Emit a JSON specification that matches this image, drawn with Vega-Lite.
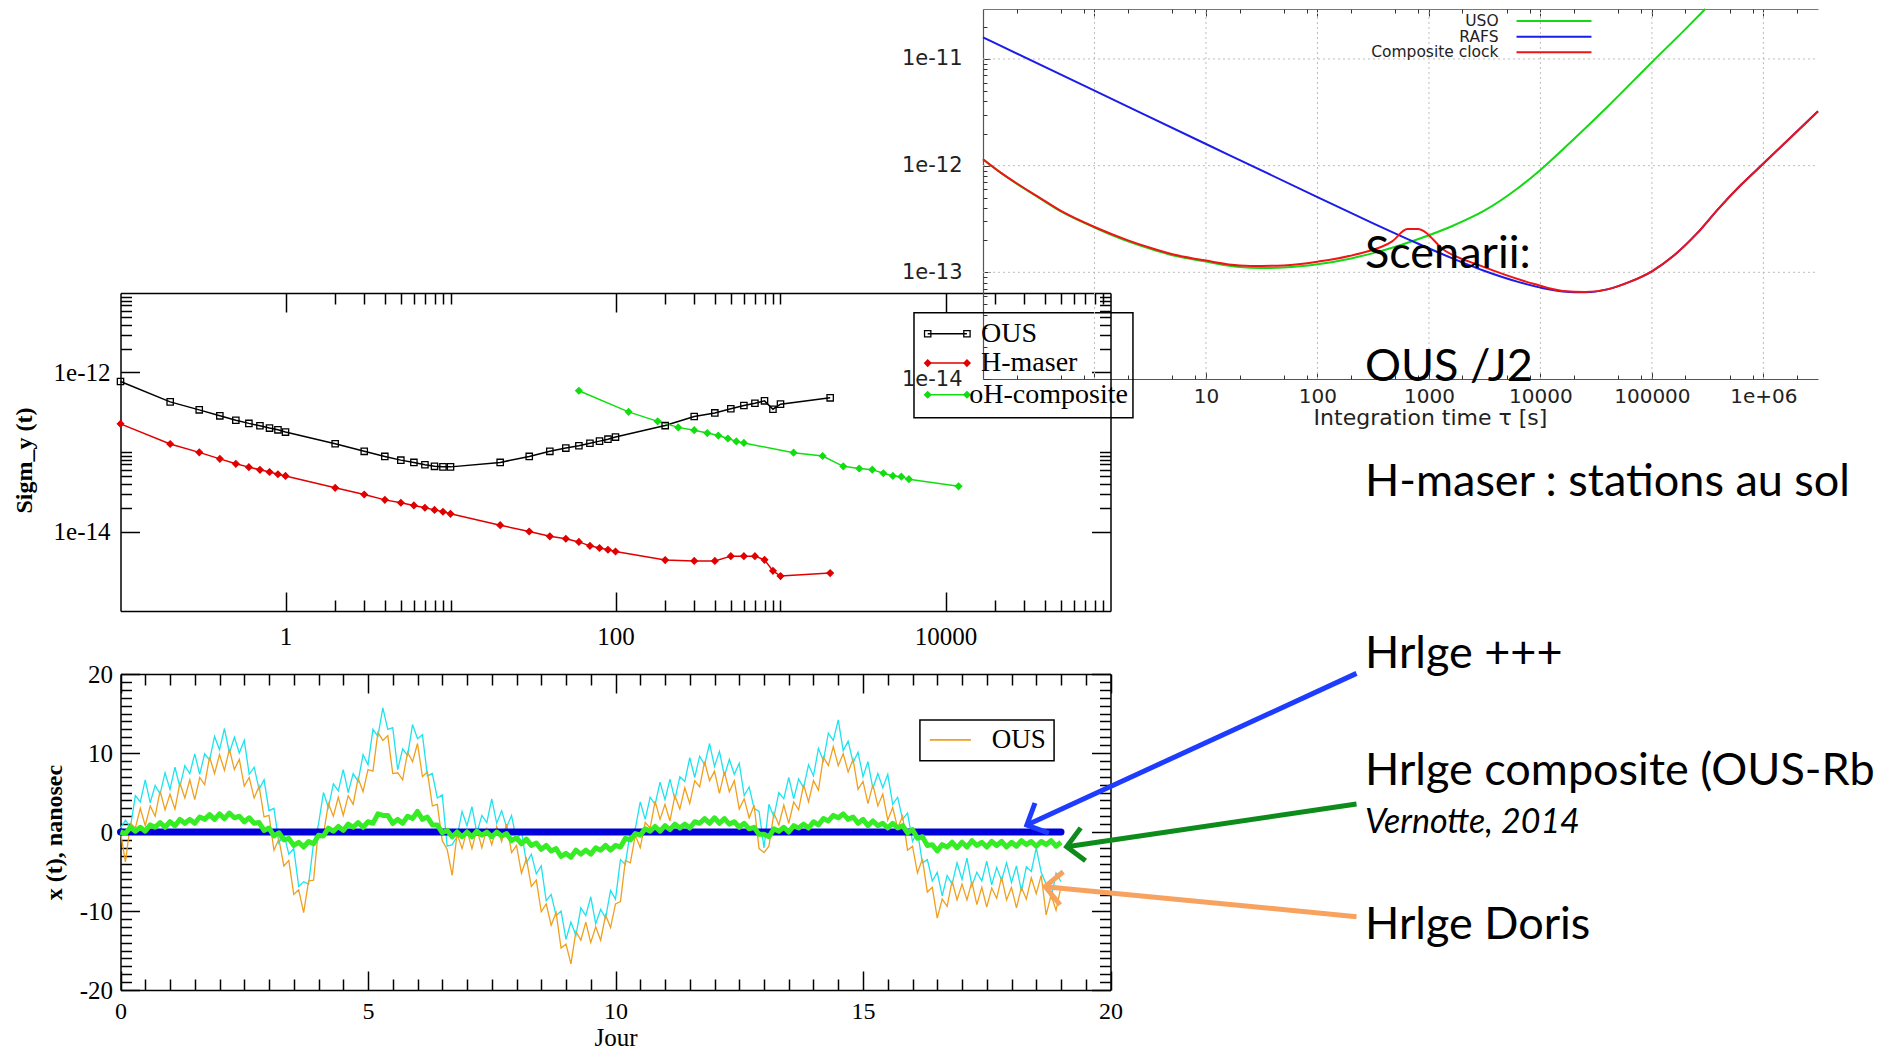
{
"$schema":"https://vega.github.io/schema/vega-lite/v6.json",
"width":1879,"height":1053,"autosize":{"type":"none"},"padding":0,"background":"white",
"config":{"view":{"stroke":null},"axis":{"grid":false,"labelFlush":false,"labelOverlap":false,"labelBound":false}},
"datasets":{
"sigma":[
{"series":"OUS","tau":0.1,"s":7.7e-13},{"series":"OUS","tau":0.2,"s":4.27e-13},{"series":"OUS","tau":0.3,"s":3.39e-13},{"series":"OUS","tau":0.4,"s":2.85e-13},{"series":"OUS","tau":0.5,"s":2.51e-13},{"series":"OUS","tau":0.6,"s":2.29e-13},{"series":"OUS","tau":0.7,"s":2.14e-13},{"series":"OUS","tau":0.8,"s":2.0e-13},{"series":"OUS","tau":0.9,"s":1.9e-13},{"series":"OUS","tau":1,"s":1.78e-13},
{"series":"OUS","tau":2,"s":1.27e-13},{"series":"OUS","tau":3,"s":1.02e-13},{"series":"OUS","tau":4,"s":8.8e-14},{"series":"OUS","tau":5,"s":7.9e-14},{"series":"OUS","tau":6,"s":7.4e-14},{"series":"OUS","tau":7,"s":6.9e-14},{"series":"OUS","tau":8,"s":6.6e-14},{"series":"OUS","tau":9,"s":6.5e-14},{"series":"OUS","tau":10,"s":6.5e-14},
{"series":"OUS","tau":20,"s":7.4e-14},{"series":"OUS","tau":30,"s":8.8e-14},{"series":"OUS","tau":40,"s":1.02e-13},{"series":"OUS","tau":50,"s":1.12e-13},{"series":"OUS","tau":60,"s":1.2e-13},{"series":"OUS","tau":70,"s":1.29e-13},{"series":"OUS","tau":80,"s":1.37e-13},{"series":"OUS","tau":90,"s":1.45e-13},{"series":"OUS","tau":100,"s":1.54e-13},
{"series":"OUS","tau":200,"s":2.15e-13},{"series":"OUS","tau":300,"s":2.8e-13},{"series":"OUS","tau":400,"s":3.1e-13},{"series":"OUS","tau":500,"s":3.5e-13},{"series":"OUS","tau":600,"s":3.85e-13},{"series":"OUS","tau":700,"s":4.1e-13},{"series":"OUS","tau":800,"s":4.4e-13},{"series":"OUS","tau":900,"s":3.45e-13},{"series":"OUS","tau":1000,"s":4.0e-13},{"series":"OUS","tau":2000,"s":4.8e-13},
{"series":"H-maser","tau":0.1,"s":2.26e-13},{"series":"H-maser","tau":0.2,"s":1.26e-13},{"series":"H-maser","tau":0.3,"s":9.9e-14},{"series":"H-maser","tau":0.4,"s":8.2e-14},{"series":"H-maser","tau":0.5,"s":7.1e-14},{"series":"H-maser","tau":0.6,"s":6.45e-14},{"series":"H-maser","tau":0.7,"s":5.97e-14},{"series":"H-maser","tau":0.8,"s":5.6e-14},{"series":"H-maser","tau":0.9,"s":5.25e-14},{"series":"H-maser","tau":1,"s":5.0e-14},
{"series":"H-maser","tau":2,"s":3.54e-14},{"series":"H-maser","tau":3,"s":2.92e-14},{"series":"H-maser","tau":4,"s":2.5e-14},{"series":"H-maser","tau":5,"s":2.3e-14},{"series":"H-maser","tau":6,"s":2.13e-14},{"series":"H-maser","tau":7,"s":1.99e-14},{"series":"H-maser","tau":8,"s":1.87e-14},{"series":"H-maser","tau":9,"s":1.77e-14},{"series":"H-maser","tau":10,"s":1.67e-14},
{"series":"H-maser","tau":20,"s":1.2e-14},{"series":"H-maser","tau":30,"s":1.0e-14},{"series":"H-maser","tau":40,"s":8.7e-15},{"series":"H-maser","tau":50,"s":8.1e-15},{"series":"H-maser","tau":60,"s":7.4e-15},{"series":"H-maser","tau":70,"s":6.6e-15},{"series":"H-maser","tau":80,"s":6.2e-15},{"series":"H-maser","tau":90,"s":5.9e-15},{"series":"H-maser","tau":100,"s":5.6e-15},
{"series":"H-maser","tau":200,"s":4.37e-15},{"series":"H-maser","tau":300,"s":4.27e-15},{"series":"H-maser","tau":400,"s":4.27e-15},{"series":"H-maser","tau":500,"s":4.9e-15},{"series":"H-maser","tau":600,"s":4.9e-15},{"series":"H-maser","tau":700,"s":4.9e-15},{"series":"H-maser","tau":800,"s":4.4e-15},{"series":"H-maser","tau":900,"s":3.2e-15},{"series":"H-maser","tau":1000,"s":2.75e-15},{"series":"H-maser","tau":2000,"s":3.0e-15},
{"series":"H-composite","tau":60,"s":5.9e-13},{"series":"H-composite","tau":120,"s":3.2e-13},{"series":"H-composite","tau":180,"s":2.43e-13},{"series":"H-composite","tau":240,"s":2.04e-13},{"series":"H-composite","tau":300,"s":1.88e-13},{"series":"H-composite","tau":360,"s":1.73e-13},{"series":"H-composite","tau":420,"s":1.61e-13},{"series":"H-composite","tau":480,"s":1.48e-13},{"series":"H-composite","tau":540,"s":1.36e-13},{"series":"H-composite","tau":600,"s":1.3e-13},
{"series":"H-composite","tau":1200,"s":9.8e-14},{"series":"H-composite","tau":1800,"s":8.9e-14},{"series":"H-composite","tau":2400,"s":6.6e-14},{"series":"H-composite","tau":3000,"s":6.2e-14},{"series":"H-composite","tau":3600,"s":6.0e-14},{"series":"H-composite","tau":4200,"s":5.4e-14},{"series":"H-composite","tau":4800,"s":5.0e-14},{"series":"H-composite","tau":5400,"s":4.9e-14},{"series":"H-composite","tau":6000,"s":4.55e-14},{"series":"H-composite","tau":12000,"s":3.7e-14}
],
"mleg":[
{"series":"OUS","label":"OUS","xa":7800,"xb":13490,"xt":16410,"y":3.07e-12},
{"series":"H-maser","label":"H-maser","xa":7800,"xb":13490,"xt":16410,"y":1.312e-12},
{"series":"H-composite","label":"oH-composite","xa":7800,"xb":13490,"xt":13940,"y":5.25e-13}
],
"mlegpts":[
{"series":"OUS","px":7800,"py":3.07e-12},{"series":"OUS","px":13490,"py":3.07e-12},
{"series":"H-maser","px":7800,"py":1.312e-12},{"series":"H-maser","px":13490,"py":1.312e-12},
{"series":"H-composite","px":7800,"py":5.25e-13},{"series":"H-composite","px":13490,"py":5.25e-13}
],
"mlegbox":[{"bx1":6442,"bx2":136800,"by1":5.64e-12,"by2":2.69e-13}],
"adev":[
{"series":"USO","tau":0.1,"s":1.148e-12},{"series":"USO","tau":0.141,"s":8.71e-13},{"series":"USO","tau":0.2,"s":6.76e-13},{"series":"USO","tau":0.316,"s":5.01e-13},{"series":"USO","tau":0.5,"s":3.72e-13},{"series":"USO","tau":1,"s":2.63e-13},{"series":"USO","tau":2,"s":1.95e-13},{"series":"USO","tau":3.16,"s":1.66e-13},{"series":"USO","tau":5,"s":1.445e-13},{"series":"USO","tau":10,"s":1.26e-13},{"series":"USO","tau":20,"s":1.12e-13},{"series":"USO","tau":31.6,"s":1.096e-13},{"series":"USO","tau":50,"s":1.109e-13},{"series":"USO","tau":100,"s":1.189e-13},{"series":"USO","tau":200,"s":1.349e-13},{"series":"USO","tau":316,"s":1.514e-13},{"series":"USO","tau":501,"s":1.738e-13},{"series":"USO","tau":794,"s":2.042e-13},{"series":"USO","tau":1585,"s":2.69e-13},{"series":"USO","tau":3162,"s":3.8e-13},{"series":"USO","tau":6310,"s":6.17e-13},{"series":"USO","tau":10000,"s":9.12e-13},{"series":"USO","tau":20000,"s":1.778e-12},{"series":"USO","tau":39800,"s":3.548e-12},{"series":"USO","tau":100000,"s":9.33e-12},{"series":"USO","tau":200000,"s":1.905e-11},{"series":"USO","tau":301000,"s":2.94e-11},
{"series":"RAFS","tau":0.1,"s":1.596e-11},{"series":"RAFS","tau":1,"s":5.05e-12},{"series":"RAFS","tau":10,"s":1.596e-12},{"series":"RAFS","tau":100,"s":5.07e-13},{"series":"RAFS","tau":316,"s":2.88e-13},{"series":"RAFS","tau":794,"s":1.862e-13},{"series":"RAFS","tau":1585,"s":1.365e-13},{"series":"RAFS","tau":3162,"s":1.028e-13},{"series":"RAFS","tau":6310,"s":8.13e-14},{"series":"RAFS","tau":10000,"s":7.19e-14},{"series":"RAFS","tau":15850,"s":6.62e-14},{"series":"RAFS","tau":25120,"s":6.5e-14},{"series":"RAFS","tau":39810,"s":6.92e-14},{"series":"RAFS","tau":63100,"s":8.13e-14},{"series":"RAFS","tau":100000,"s":1.023e-13},{"series":"RAFS","tau":158500,"s":1.445e-13},{"series":"RAFS","tau":251200,"s":2.29e-13},{"series":"RAFS","tau":398100,"s":3.98e-13},{"series":"RAFS","tau":631000,"s":6.61e-13},{"series":"RAFS","tau":1000000,"s":1.047e-12},{"series":"RAFS","tau":1585000,"s":1.66e-12},{"series":"RAFS","tau":3090000,"s":3.24e-12},
{"series":"Composite clock","tau":0.1,"s":1.148e-12},{"series":"Composite clock","tau":0.141,"s":8.75e-13},{"series":"Composite clock","tau":0.2,"s":6.84e-13},{"series":"Composite clock","tau":0.316,"s":5.07e-13},{"series":"Composite clock","tau":0.5,"s":3.76e-13},{"series":"Composite clock","tau":1,"s":2.66e-13},{"series":"Composite clock","tau":2,"s":1.995e-13},{"series":"Composite clock","tau":3.16,"s":1.698e-13},{"series":"Composite clock","tau":5,"s":1.479e-13},{"series":"Composite clock","tau":10,"s":1.288e-13},{"series":"Composite clock","tau":20,"s":1.161e-13},{"series":"Composite clock","tau":31.6,"s":1.148e-13},{"series":"Composite clock","tau":50,"s":1.161e-13},{"series":"Composite clock","tau":100,"s":1.259e-13},{"series":"Composite clock","tau":224,"s":1.479e-13},{"series":"Composite clock","tau":468,"s":1.95e-13},{"series":"Composite clock","tau":640,"s":2.547e-13},{"series":"Composite clock","tau":792,"s":2.547e-13},{"series":"Composite clock","tau":1406,"s":1.585e-13},{"series":"Composite clock","tau":2931,"s":1.148e-13},{"series":"Composite clock","tau":8831,"s":7.76e-14},{"series":"Composite clock","tau":15850,"s":6.68e-14},{"series":"Composite clock","tau":25120,"s":6.53e-14},{"series":"Composite clock","tau":39810,"s":6.92e-14},{"series":"Composite clock","tau":63100,"s":8.13e-14},{"series":"Composite clock","tau":100000,"s":1.023e-13},{"series":"Composite clock","tau":158500,"s":1.445e-13},{"series":"Composite clock","tau":251200,"s":2.29e-13},{"series":"Composite clock","tau":398100,"s":3.98e-13},{"series":"Composite clock","tau":631000,"s":6.61e-13},{"series":"Composite clock","tau":1000000,"s":1.047e-12},{"series":"Composite clock","tau":1585000,"s":1.66e-12},{"series":"Composite clock","tau":3090000,"s":3.24e-12}
],
"tgx":[{"gx":1},{"gx":10},{"gx":100},{"gx":1000},{"gx":10000},{"gx":100000},{"gx":1000000}],
"tgy":[{"gy":1e-13},{"gy":1e-12},{"gy":1e-11}],
"tleg":[
{"series":"USO","xa":6106,"xb":28700,"xt":4217,"y":2.27e-11},
{"series":"RAFS","xa":6106,"xb":28700,"xt":4217,"y":1.618e-11},
{"series":"Composite clock","xa":6106,"xb":28700,"xt":4217,"y":1.156e-11}
],
"xt":[
{"t":0,"o":0,"c":0.5,"g":0},{"t":0.1,"o":-3.8,"c":1.5,"g":-0.2},{"t":0.2,"o":1.1,"c":0.6,"g":0.6},{"t":0.3,"o":0.5,"c":4.6,"g":0.1},{"t":0.4,"o":3.0,"c":3.8,"g":0.6},{"t":0.5,"o":0.8,"c":6.6,"g":0.1},{"t":0.6,"o":3.3,"c":3.7,"g":0.9},{"t":0.7,"o":2.0,"c":5.9,"g":0.6},{"t":0.8,"o":5.2,"c":4.8,"g":1.2},{"t":0.9,"o":2.8,"c":7.5,"g":0.6},
{"t":1.0,"o":4.8,"c":5.4,"g":1.3},{"t":1.1,"o":2.9,"c":8.2,"g":0.8},{"t":1.2,"o":6.2,"c":5.7,"g":1.6},{"t":1.3,"o":4.3,"c":8.4,"g":1.1},{"t":1.4,"o":6.6,"c":7.4,"g":1.6},{"t":1.5,"o":4.1,"c":9.9,"g":1.1},{"t":1.6,"o":6.9,"c":7.3,"g":1.9},{"t":1.7,"o":6.0,"c":9.9,"g":1.6},{"t":1.8,"o":9.5,"c":9.1,"g":2.2},{"t":1.9,"o":7.4,"c":12.1,"g":1.6},
{"t":2.0,"o":9.8,"c":10.4,"g":2.3},{"t":2.1,"o":7.8,"c":13.1,"g":1.7},{"t":2.2,"o":10.5,"c":10.0,"g":2.4},{"t":2.3,"o":7.9,"c":12.0,"g":1.8},{"t":2.4,"o":9.2,"c":10.0,"g":2.0},{"t":2.5,"o":5.8,"c":11.6,"g":1.3},{"t":2.6,"o":6.9,"c":7.3,"g":1.8},{"t":2.7,"o":4.3,"c":8.2,"g":1.1},{"t":2.8,"o":5.8,"c":5.4,"g":1.2},{"t":2.9,"o":1.9,"c":6.6,"g":0.2},
{"t":3.0,"o":2.1,"c":2.7,"g":0.5},{"t":3.1,"o":-2.3,"c":3.0,"g":-0.5},{"t":3.2,"o":-0.9,"c":-1.4,"g":-0.1},{"t":3.3,"o":-4.3,"c":-0.2,"g":-1.0},{"t":3.4,"o":-3.6,"c":-2.8,"g":-0.8},{"t":3.5,"o":-7.9,"c":-2.1,"g":-1.7},{"t":3.6,"o":-7.3,"c":-6.9,"g":-1.3},{"t":3.7,"o":-10.2,"c":-6.3,"g":-1.9},{"t":3.8,"o":-6.2,"c":-6.6,"g":-1.2},{"t":3.9,"o":-6.1,"c":-1.4,"g":-1.5},
{"t":4.0,"o":0.4,"c":1.0,"g":-0.4},{"t":4.1,"o":-0.3,"c":5.0,"g":-0.5},{"t":4.2,"o":3.6,"c":3.1,"g":0.5},{"t":4.3,"o":2.0,"c":6.1,"g":0.1},{"t":4.4,"o":4.4,"c":5.2,"g":0.7},{"t":4.5,"o":2.1,"c":7.9,"g":0.2},{"t":4.6,"o":4.6,"c":5.0,"g":1.0},{"t":4.7,"o":3.5,"c":7.4,"g":0.6},{"t":4.8,"o":6.8,"c":6.4,"g":1.2},{"t":4.9,"o":5.1,"c":9.8,"g":0.6},
{"t":5.0,"o":7.9,"c":8.5,"g":1.3},{"t":5.1,"o":7.7,"c":13.0,"g":1.1},{"t":5.2,"o":12.6,"c":12.1,"g":2.3},{"t":5.3,"o":11.6,"c":15.7,"g":2.1},{"t":5.4,"o":12.2,"c":13.0,"g":2.1},{"t":5.5,"o":7.4,"c":13.2,"g":1.1},{"t":5.6,"o":7.5,"c":7.9,"g":1.6},{"t":5.7,"o":6.6,"c":10.5,"g":1.1},{"t":5.8,"o":10.1,"c":9.7,"g":2.0},{"t":5.9,"o":8.9,"c":13.6,"g":1.7},
{"t":6.0,"o":11.2,"c":11.8,"g":2.6},{"t":6.1,"o":7.0,"c":12.3,"g":1.6},{"t":6.2,"o":7.6,"c":7.1,"g":1.9},{"t":6.3,"o":3.3,"c":7.4,"g":0.9},{"t":6.4,"o":3.5,"c":4.3,"g":0.9},{"t":6.5,"o":-1.1,"c":4.7,"g":-0.1},{"t":6.6,"o":-2.2,"c":-1.8,"g":0.2},{"t":6.7,"o":-5.5,"c":-1.6,"g":-0.6},{"t":6.8,"o":-0.2,"c":-0.6,"g":0.0},{"t":6.9,"o":-2.1,"c":2.6,"g":-0.6},
{"t":7.0,"o":0.2,"c":0.8,"g":0.0},{"t":7.1,"o":-2.1,"c":3.2,"g":-0.6},{"t":7.2,"o":0.4,"c":-0.1,"g":0.1},{"t":7.3,"o":-2.0,"c":2.1,"g":-0.4},{"t":7.4,"o":0.4,"c":1.2,"g":0.0},{"t":7.5,"o":-1.6,"c":4.2,"g":-0.6},{"t":7.6,"o":0.7,"c":1.1,"g":0.0},{"t":7.7,"o":-1.2,"c":2.7,"g":-0.5},{"t":7.8,"o":1.0,"c":0.6,"g":-0.2},{"t":7.9,"o":-2.6,"c":2.1,"g":-1.1},
{"t":8.0,"o":-1.7,"c":-1.1,"g":-0.7},{"t":8.1,"o":-5.2,"c":0.1,"g":-1.5},{"t":8.2,"o":-3.4,"c":-3.9,"g":-0.9},{"t":8.3,"o":-6.9,"c":-2.8,"g":-1.7},{"t":8.4,"o":-6.1,"c":-5.3,"g":-1.4},{"t":8.5,"o":-10.1,"c":-4.3,"g":-2.2},{"t":8.6,"o":-9.1,"c":-8.7,"g":-1.7},{"t":8.7,"o":-11.8,"c":-7.9,"g":-2.4},{"t":8.8,"o":-10.2,"c":-10.6,"g":-2.1},{"t":8.9,"o":-14.7,"c":-10.0,"g":-3.1},
{"t":9.0,"o":-14.2,"c":-13.6,"g":-2.7},{"t":9.1,"o":-16.7,"c":-11.4,"g":-3.2},{"t":9.2,"o":-12.6,"c":-13.1,"g":-2.3},{"t":9.3,"o":-13.7,"c":-9.6,"g":-2.8},{"t":9.4,"o":-11.4,"c":-10.6,"g":-2.3},{"t":9.5,"o":-14.0,"c":-8.2,"g":-2.8},{"t":9.6,"o":-12.0,"c":-11.6,"g":-2.0},{"t":9.7,"o":-13.7,"c":-9.8,"g":-2.3},{"t":9.8,"o":-10.5,"c":-10.9,"g":-1.7},{"t":9.9,"o":-12.1,"c":-7.4,"g":-2.3},
{"t":10.0,"o":-9.1,"c":-8.5,"g":-1.7},{"t":10.1,"o":-8.8,"c":-3.5,"g":-1.9},{"t":10.2,"o":-3.6,"c":-4.1,"g":-0.8},{"t":10.3,"o":-3.9,"c":0.2,"g":-1.0},{"t":10.4,"o":-0.4,"c":0.4,"g":-0.2},{"t":10.5,"o":-2.0,"c":3.8,"g":-0.4},{"t":10.6,"o":1.2,"c":1.6,"g":0.4},{"t":10.7,"o":0.5,"c":4.4,"g":0.1},{"t":10.8,"o":3.9,"c":3.5,"g":0.7},{"t":10.9,"o":1.6,"c":6.3,"g":0.1},
{"t":11.0,"o":3.5,"c":4.1,"g":0.8},{"t":11.1,"o":1.4,"c":6.7,"g":0.3},{"t":11.2,"o":4.6,"c":4.1,"g":1.0},{"t":11.3,"o":2.9,"c":7.0,"g":0.5},{"t":11.4,"o":5.6,"c":6.4,"g":1.0},{"t":11.5,"o":3.6,"c":9.4,"g":0.5},{"t":11.6,"o":6.5,"c":6.9,"g":1.3},{"t":11.7,"o":5.7,"c":9.6,"g":1.1},{"t":11.8,"o":8.9,"c":8.5,"g":1.7},{"t":11.9,"o":6.5,"c":11.2,"g":1.1},
{"t":12.0,"o":7.7,"c":8.3,"g":1.8},{"t":12.1,"o":4.9,"c":10.2,"g":1.1},{"t":12.2,"o":7.6,"c":7.1,"g":1.7},{"t":12.3,"o":5.1,"c":9.2,"g":1.0},{"t":12.4,"o":6.5,"c":7.3,"g":1.3},{"t":12.5,"o":2.9,"c":8.7,"g":0.6},{"t":12.6,"o":4.2,"c":4.6,"g":1.1},{"t":12.7,"o":1.8,"c":5.7,"g":0.4},{"t":12.8,"o":3.4,"c":3.0,"g":0.6},{"t":12.9,"o":-2.1,"c":2.6,"g":-0.3},
{"t":13.0,"o":-2.6,"c":-2.0,"g":-0.3},{"t":13.1,"o":-1.8,"c":3.5,"g":-0.6},{"t":13.2,"o":2.4,"c":1.9,"g":0.4},{"t":13.3,"o":0.9,"c":5.0,"g":0.1},{"t":13.4,"o":3.4,"c":4.2,"g":0.6},{"t":13.5,"o":1.1,"c":6.9,"g":0.0},{"t":13.6,"o":3.8,"c":4.2,"g":0.8},{"t":13.7,"o":2.8,"c":6.7,"g":0.5},{"t":13.8,"o":6.0,"c":5.6,"g":1.0},{"t":13.9,"o":3.8,"c":8.5,"g":0.5},
{"t":14.0,"o":6.5,"c":7.1,"g":1.3},{"t":14.1,"o":5.3,"c":10.6,"g":0.9},{"t":14.2,"o":9.5,"c":9.0,"g":1.7},{"t":14.3,"o":8.4,"c":12.5,"g":1.4},{"t":14.4,"o":10.8,"c":11.6,"g":2.1},{"t":14.5,"o":8.4,"c":14.2,"g":1.8},{"t":14.6,"o":9.9,"c":10.3,"g":2.3},{"t":14.7,"o":7.6,"c":11.5,"g":1.6},{"t":14.8,"o":9.2,"c":8.8,"g":1.9},{"t":14.9,"o":5.4,"c":10.1,"g":1.1},
{"t":15.0,"o":6.4,"c":7.0,"g":1.6},{"t":15.1,"o":3.6,"c":8.9,"g":0.8},{"t":15.2,"o":6.0,"c":5.5,"g":1.4},{"t":15.3,"o":3.3,"c":7.4,"g":0.8},{"t":15.4,"o":4.8,"c":5.6,"g":1.1},{"t":15.5,"o":1.5,"c":7.3,"g":0.5},{"t":15.6,"o":3.1,"c":3.5,"g":1.1},{"t":15.7,"o":0.5,"c":4.4,"g":0.5},{"t":15.8,"o":2.0,"c":1.6,"g":0.8},{"t":15.9,"o":-2.3,"c":2.4,"g":-0.1},
{"t":16.0,"o":-1.8,"c":-1.2,"g":0.3},{"t":16.1,"o":-5.2,"c":0.1,"g":-0.8},{"t":16.2,"o":-3.4,"c":-3.9,"g":-0.6},{"t":16.3,"o":-7.6,"c":-3.5,"g":-1.7},{"t":16.4,"o":-7.0,"c":-6.2,"g":-1.6},{"t":16.5,"o":-10.9,"c":-5.1,"g":-2.4},{"t":16.6,"o":-8.5,"c":-8.1,"g":-1.6},{"t":16.7,"o":-9.4,"c":-5.5,"g":-1.9},{"t":16.8,"o":-6.2,"c":-6.6,"g":-1.3},{"t":16.9,"o":-8.6,"c":-3.9,"g":-2.0},
{"t":17.0,"o":-6.6,"c":-6.0,"g":-1.3},{"t":17.1,"o":-8.6,"c":-3.3,"g":-1.9},{"t":17.2,"o":-6.3,"c":-6.8,"g":-1.1},{"t":17.3,"o":-9.2,"c":-5.1,"g":-1.7},{"t":17.4,"o":-7.0,"c":-6.2,"g":-1.3},{"t":17.5,"o":-9.5,"c":-3.7,"g":-1.9},{"t":17.6,"o":-7.1,"c":-6.7,"g":-1.2},{"t":17.7,"o":-8.4,"c":-4.5,"g":-1.7},{"t":17.8,"o":-5.7,"c":-6.1,"g":-1.2},{"t":17.9,"o":-8.6,"c":-3.9,"g":-1.9},
{"t":18.0,"o":-7.0,"c":-6.4,"g":-1.3},{"t":18.1,"o":-9.6,"c":-4.3,"g":-1.8},{"t":18.2,"o":-7.0,"c":-7.5,"g":-1.1},{"t":18.3,"o":-8.5,"c":-4.4,"g":-1.6},{"t":18.4,"o":-5.8,"c":-5.0,"g":-1.2},{"t":18.5,"o":-7.8,"c":-2.0,"g":-1.8},{"t":18.6,"o":-5.5,"c":-5.1,"g":-1.2},{"t":18.7,"o":-10.5,"c":-6.6,"g":-1.6},{"t":18.8,"o":-8.0,"c":-8.4,"g":-1.1},{"t":18.9,"o":-9.9,"c":-5.2,"g":-1.8},
{"t":19.0,"o":-6.9,"c":-6.3,"g":-1.3}
],
"hrlge":[{"t":0,"v":0},{"t":19,"v":0}],
"blegbox":[{"bx1":16.15,"bx2":18.86,"by1":14.18,"by2":9.03}],
"bleg":[{"label":"OUS","xa":16.35,"xb":17.18,"xt":17.6,"y":11.65}],
"arrows":[
{"target":"Hrlge +++","xs":24.97,"ys":20.08,"xe":18.31,"ye":0.886,"heading":245.3},
{"target":"Hrlge composite","xs":24.97,"ys":3.54,"xe":19.115,"ye":-1.86,"heading":261.6},
{"target":"Hrlge Doris","xs":24.97,"ys":-10.72,"xe":18.68,"ye":-6.92,"heading":275.5}
],
"notes":[
{"label":"Scenarii:","day":25.14,"ns":71.4},
{"label":"OUS /J2","day":25.14,"ns":57.1},
{"label":"H-maser : stations au sol","day":25.14,"ns":42.47},
{"label":"Hrlge +++","day":25.14,"ns":20.76},
{"label":"Hrlge composite (OUS-Rb","day":25.14,"ns":5.95},
{"label":"Hrlge Doris","day":25.14,"ns":-13.52}
],
"notes_it":[{"label":"Vernotte, 2014","day":25.14,"ns":-0.08}]
},
"resolve":{"scale":{"x":"independent","y":"independent","stroke":"independent","fill":"independent","shape":"independent","color":"independent"}},
"layer":[
{
"resolve":{"axis":{"x":"independent","y":"independent"}},
"layer":[
{"data":{"name":"sigma"},"mark":{"type":"line","strokeWidth":1.5},
"encoding":{
"x":{"field":"tau","type":"quantitative","scale":{"type":"log","domain":[0.1,100000],"range":[120.5,1110.5],"nice":false},
"axis":{"orient":"bottom","offset":-442,"values":[1,100,10000],"format":"d","tickSize":-19,"tickWidth":1.5,"tickColor":"black","domainColor":"black","domainWidth":1.5,"labelPadding":32,"labelFont":"Liberation Serif","labelFontSize":25,"labelColor":"black","title":null}},
"y":{"field":"s","type":"quantitative","scale":{"type":"log","domain":[1e-15,1e-11],"range":[611,293],"nice":false},
"axis":{"orient":"left","offset":-120.5,"values":[1e-14,1e-12],"labelExpr":"datum.value < 1e-13 ? '1e-14' : '1e-12'","tickSize":-19,"tickWidth":1.5,"tickColor":"black","domainColor":"black","domainWidth":1.5,"labelPadding":29.5,"labelFont":"Liberation Serif","labelFontSize":25,"labelColor":"black","title":"Sigm_y (t)","titleFont":"Liberation Serif","titleFontSize":24,"titleFontWeight":"bold","titleColor":"black","titleAngle":-90,"titleX":-96.5,"titleY":460,"titleAlign":"center","titleBaseline":"middle"}},
"stroke":{"field":"series","type":"nominal","scale":{"domain":["OUS","H-maser","H-composite"],"range":["#000000","#e00000","#11dd11"]},"legend":null}
}},
{"data":{"name":"sigma"},"mark":{"type":"point","size":40,"strokeWidth":1.3,"opacity":1},
"encoding":{
"x":{"field":"tau","type":"quantitative","scale":{"type":"log","domain":[0.1,100000],"range":[120.5,1110.5],"nice":false},
"axis":{"orient":"bottom","offset":-442,"values":[2,3,4,5,6,7,8,9,10,200,300,400,500,600,700,800,900,1000,20000,30000,40000,50000,60000,70000,80000,90000],"tickSize":-11,"tickWidth":1.5,"tickColor":"black","domain":false,"labels":false,"title":null}},
"y":{"field":"s","type":"quantitative","scale":{"type":"log","domain":[1e-15,1e-11],"range":[611,293],"nice":false},
"axis":{"orient":"left","offset":-120.5,"values":[2e-14,3e-14,4e-14,5e-14,6e-14,7e-14,8e-14,9e-14,1e-13,2e-12,3e-12,4e-12,5e-12,6e-12,7e-12,8e-12,9e-12],"tickSize":-11,"tickWidth":1.5,"tickColor":"black","domain":false,"labels":false,"title":null}},
"stroke":{"field":"series","type":"nominal","scale":{"domain":["OUS","H-maser","H-composite"],"range":["#000000","#e00000","#11dd11"]},"legend":null},
"fill":{"field":"series","type":"nominal","scale":{"domain":["OUS","H-maser","H-composite"],"range":["transparent","#e00000","#11dd11"]},"legend":null},
"shape":{"field":"series","type":"nominal","scale":{"domain":["OUS","H-maser","H-composite"],"range":["square","diamond","diamond"]},"legend":null}
}},
{"data":{"name":"mleg"},"mark":{"type":"rule","strokeWidth":1.5},
"encoding":{
"x":{"field":"xa","type":"quantitative","scale":{"type":"log","domain":[0.1,100000],"range":[120.5,1110.5],"nice":false},
"axis":{"orient":"top","offset":-293,"values":[1,100,10000],"tickSize":-19,"tickWidth":1.5,"tickColor":"black","domainColor":"black","domainWidth":1.5,"labels":false,"title":null}},
"x2":{"field":"xb"},
"y":{"field":"y","type":"quantitative","scale":{"type":"log","domain":[1e-15,1e-11],"range":[611,293],"nice":false},
"axis":{"orient":"right","offset":-768.5,"values":[1e-14,1e-12],"tickSize":-19,"tickWidth":1.5,"tickColor":"black","domainColor":"black","domainWidth":1.5,"labels":false,"title":null}},
"stroke":{"field":"series","type":"nominal","scale":{"domain":["OUS","H-maser","H-composite"],"range":["#000000","#e00000","#11dd11"]},"legend":null}
}},
{"data":{"name":"mlegpts"},"mark":{"type":"point","size":40,"strokeWidth":1.3,"opacity":1},
"encoding":{
"x":{"field":"px","type":"quantitative","scale":{"type":"log","domain":[0.1,100000],"range":[120.5,1110.5],"nice":false},
"axis":{"orient":"top","offset":-293,"values":[2,3,4,5,6,7,8,9,10,200,300,400,500,600,700,800,900,1000,20000,30000,40000,50000,60000,70000,80000,90000],"tickSize":-11,"tickWidth":1.5,"tickColor":"black","domain":false,"labels":false,"title":null}},
"y":{"field":"py","type":"quantitative","scale":{"type":"log","domain":[1e-15,1e-11],"range":[611,293],"nice":false},
"axis":{"orient":"right","offset":-768.5,"values":[2e-14,3e-14,4e-14,5e-14,6e-14,7e-14,8e-14,9e-14,1e-13,2e-12,3e-12,4e-12,5e-12,6e-12,7e-12,8e-12,9e-12],"tickSize":-11,"tickWidth":1.5,"tickColor":"black","domain":false,"labels":false,"title":null}},
"stroke":{"field":"series","type":"nominal","scale":{"domain":["OUS","H-maser","H-composite"],"range":["#000000","#e00000","#11dd11"]},"legend":null},
"fill":{"field":"series","type":"nominal","scale":{"domain":["OUS","H-maser","H-composite"],"range":["transparent","#e00000","#11dd11"]},"legend":null},
"shape":{"field":"series","type":"nominal","scale":{"domain":["OUS","H-maser","H-composite"],"range":["square","diamond","diamond"]},"legend":null}
}},
{"data":{"name":"mlegbox"},"mark":{"type":"rect","filled":false,"color":"black","strokeWidth":1.5},
"encoding":{
"x":{"field":"bx1","type":"quantitative","scale":{"type":"log","domain":[0.1,100000],"range":[120.5,1110.5],"nice":false},"axis":null},
"x2":{"field":"bx2"},
"y":{"field":"by1","type":"quantitative","scale":{"type":"log","domain":[1e-15,1e-11],"range":[611,293],"nice":false},"axis":null},
"y2":{"field":"by2"}
}},
{"data":{"name":"mleg"},"mark":{"type":"text","align":"left","baseline":"middle","font":"Liberation Serif","fontSize":28,"color":"black"},
"encoding":{
"x":{"field":"xt","type":"quantitative","scale":{"type":"log","domain":[0.1,100000],"range":[120.5,1110.5],"nice":false},"axis":null},
"y":{"field":"y","type":"quantitative","scale":{"type":"log","domain":[1e-15,1e-11],"range":[611,293],"nice":false},"axis":null},
"text":{"field":"label","type":"nominal"}
}}
]
},
{
"resolve":{"axis":{"x":"independent","y":"independent"}},
"layer":[
{"data":{"name":"xt"},"mark":{"type":"line","color":"#1ee3ee","strokeWidth":1.3},
"encoding":{
"x":{"field":"t","type":"quantitative","scale":{"type":"linear","domain":[0,20],"range":[120.5,1110.5],"nice":false,"zero":false},
"axis":{"orient":"bottom","offset":-63,"values":[0,5,10,15,20],"labelExpr":"'' + datum.value","tickSize":-19,"tickWidth":1.5,"tickColor":"black","domainColor":"black","domainWidth":1.5,"labelPadding":28,"labelFont":"Liberation Serif","labelFontSize":24,"labelColor":"black","title":"Jour","titleFont":"Liberation Serif","titleFontSize":25,"titleFontWeight":"normal","titleColor":"black","titleX":615.5,"titleY":55,"titleAlign":"center","titleBaseline":"alphabetic"}},
"y":{"field":"c","type":"quantitative","scale":{"type":"linear","domain":[-20,20],"range":[990,674],"nice":false,"zero":false},
"axis":{"orient":"left","offset":-120.5,"values":[-20,-10,0,10,20],"labelExpr":"'' + datum.value","tickSize":-19,"tickWidth":1.5,"tickColor":"black","domainColor":"black","domainWidth":1.5,"labelPadding":27,"labelFont":"Liberation Serif","labelFontSize":25,"labelColor":"black","title":"x (t), nanosec","titleFont":"Liberation Serif","titleFontSize":24,"titleFontWeight":"bold","titleColor":"black","titleAngle":-90,"titleX":-66,"titleY":832,"titleAlign":"center","titleBaseline":"middle"}}
}},
{"data":{"name":"xt"},"mark":{"type":"line","color":"#f0a01e","strokeWidth":1.3},
"encoding":{
"x":{"field":"t","type":"quantitative","scale":{"type":"linear","domain":[0,20],"range":[120.5,1110.5],"nice":false,"zero":false},
"axis":{"orient":"bottom","offset":-63,"values":[0.5,1,1.5,2,2.5,3,3.5,4,4.5,5.5,6,6.5,7,7.5,8,8.5,9,9.5,10.5,11,11.5,12,12.5,13,13.5,14,14.5,15.5,16,16.5,17,17.5,18,18.5,19,19.5],"tickSize":-11,"tickWidth":1.5,"tickColor":"black","domain":false,"labels":false,"title":null}},
"y":{"field":"o","type":"quantitative","scale":{"type":"linear","domain":[-20,20],"range":[990,674],"nice":false,"zero":false},
"axis":{"orient":"left","offset":-120.5,"values":[-19,-18,-17,-16,-15,-14,-13,-12,-11,-9,-8,-7,-6,-5,-4,-3,-2,-1,1,2,3,4,5,6,7,8,9,11,12,13,14,15,16,17,18,19],"tickSize":-11,"tickWidth":1.5,"tickColor":"black","domain":false,"labels":false,"title":null}}
}},
{"data":{"name":"hrlge"},"mark":{"type":"line","color":"#0000dc","strokeWidth":7,"strokeCap":"round"},
"encoding":{
"x":{"field":"t","type":"quantitative","scale":{"type":"linear","domain":[0,20],"range":[120.5,1110.5],"nice":false,"zero":false},
"axis":{"orient":"top","offset":-674,"values":[0,5,10,15,20],"tickSize":-19,"tickWidth":1.5,"tickColor":"black","domainColor":"black","domainWidth":1.5,"labels":false,"title":null}},
"y":{"field":"v","type":"quantitative","scale":{"type":"linear","domain":[-20,20],"range":[990,674],"nice":false,"zero":false},
"axis":{"orient":"right","offset":-768.5,"values":[-20,-10,0,10,20],"tickSize":-19,"tickWidth":1.5,"tickColor":"black","domainColor":"black","domainWidth":1.5,"labels":false,"title":null}}
}},
{"data":{"name":"xt"},"mark":{"type":"line","color":"#35ec25","strokeWidth":5,"strokeJoin":"round"},
"encoding":{
"x":{"field":"t","type":"quantitative","scale":{"type":"linear","domain":[0,20],"range":[120.5,1110.5],"nice":false,"zero":false},
"axis":{"orient":"top","offset":-674,"values":[0.5,1,1.5,2,2.5,3,3.5,4,4.5,5.5,6,6.5,7,7.5,8,8.5,9,9.5,10.5,11,11.5,12,12.5,13,13.5,14,14.5,15.5,16,16.5,17,17.5,18,18.5,19,19.5],"tickSize":-11,"tickWidth":1.5,"tickColor":"black","domain":false,"labels":false,"title":null}},
"y":{"field":"g","type":"quantitative","scale":{"type":"linear","domain":[-20,20],"range":[990,674],"nice":false,"zero":false},
"axis":{"orient":"right","offset":-768.5,"values":[-19,-18,-17,-16,-15,-14,-13,-12,-11,-9,-8,-7,-6,-5,-4,-3,-2,-1,1,2,3,4,5,6,7,8,9,11,12,13,14,15,16,17,18,19],"tickSize":-11,"tickWidth":1.5,"tickColor":"black","domain":false,"labels":false,"title":null}}
}},
{"data":{"name":"blegbox"},"mark":{"type":"rect","filled":false,"color":"black","strokeWidth":1.5},
"encoding":{
"x":{"field":"bx1","type":"quantitative","scale":{"type":"linear","domain":[0,20],"range":[120.5,1110.5],"nice":false,"zero":false},"axis":null},
"x2":{"field":"bx2"},
"y":{"field":"by1","type":"quantitative","scale":{"type":"linear","domain":[-20,20],"range":[990,674],"nice":false,"zero":false},"axis":null},
"y2":{"field":"by2"}
}},
{"data":{"name":"bleg"},"mark":{"type":"rule","color":"#f0a01e","strokeWidth":1.8},
"encoding":{
"x":{"field":"xa","type":"quantitative","scale":{"type":"linear","domain":[0,20],"range":[120.5,1110.5],"nice":false,"zero":false},"axis":null},
"x2":{"field":"xb"},
"y":{"field":"y","type":"quantitative","scale":{"type":"linear","domain":[-20,20],"range":[990,674],"nice":false,"zero":false},"axis":null}
}},
{"data":{"name":"bleg"},"mark":{"type":"text","align":"left","baseline":"middle","font":"Liberation Serif","fontSize":27,"color":"black"},
"encoding":{
"x":{"field":"xt","type":"quantitative","scale":{"type":"linear","domain":[0,20],"range":[120.5,1110.5],"nice":false,"zero":false},"axis":null},
"y":{"field":"y","type":"quantitative","scale":{"type":"linear","domain":[-20,20],"range":[990,674],"nice":false,"zero":false},"axis":null},
"text":{"field":"label","type":"nominal"}
}}
]
},
{
"resolve":{"axis":{"x":"independent","y":"independent"}},
"layer":[
{"data":{"name":"tgx"},"mark":{"type":"rule","color":"#bdbdbd","strokeWidth":1,"strokeDash":[2,3]},
"encoding":{
"x":{"field":"gx","type":"quantitative","scale":{"type":"log","domain":[0.1,3090000],"range":[983,1818],"nice":false},
"axis":{"orient":"bottom","offset":-674,"values":[1,10,100,1000,10000,100000,1000000],"labelExpr":"datum.value < 5 ? '' : datum.value > 500000 ? '1e+06' : format(datum.value, 'd')","tickSize":-7,"tickWidth":1,"tickColor":"#333333","domainColor":"#555555","domainWidth":1.2,"labelPadding":14,"labelFont":"DejaVu Sans","labelFontSize":20,"labelColor":"#222222","title":"Integration time τ [s]","titleFont":"DejaVu Sans","titleFontSize":22,"titleFontWeight":"normal","titleColor":"#222222","titleX":1430,"titleY":45,"titleAlign":"center","titleBaseline":"alphabetic"}},
"y":{"datum":1e-14,"type":"quantitative","scale":{"type":"log","domain":[1e-14,2.94e-11],"range":[379,9],"nice":false},
"axis":{"orient":"left","offset":-983,"values":[1e-14,1e-13,1e-12,1e-11],"labelExpr":"datum.value < 5e-14 ? '1e-14' : datum.value < 5e-13 ? '1e-13' : datum.value < 5e-12 ? '1e-12' : '1e-11'","tickSize":-7,"tickWidth":1,"tickColor":"#333333","domainColor":"#555555","domainWidth":1.2,"labelPadding":28,"labelFont":"DejaVu Sans","labelFontSize":21,"labelColor":"#222222","title":null}},
"y2":{"datum":2.94e-11}
}},
{"data":{"name":"tgy"},"mark":{"type":"rule","color":"#bdbdbd","strokeWidth":1,"strokeDash":[2,3]},
"encoding":{
"y":{"field":"gy","type":"quantitative","scale":{"type":"log","domain":[1e-14,2.94e-11],"range":[379,9],"nice":false},
"axis":{"orient":"left","offset":-983,"values":[2e-14,3e-14,4e-14,5e-14,6e-14,7e-14,8e-14,9e-14,2e-13,3e-13,4e-13,5e-13,6e-13,7e-13,8e-13,9e-13,2e-12,3e-12,4e-12,5e-12,6e-12,7e-12,8e-12,9e-12,2e-11],"tickSize":-4,"tickWidth":1,"tickColor":"#333333","domain":false,"labels":false,"title":null}},
"x":{"datum":0.1,"type":"quantitative","scale":{"type":"log","domain":[0.1,3090000],"range":[983,1818],"nice":false},
"axis":{"orient":"bottom","offset":-674,"values":[0.2,0.5,0.8,2,5,8,20,50,80,200,500,800,2000,5000,8000,20000,50000,80000,200000,500000,800000,2000000],"tickSize":-4,"tickWidth":1,"tickColor":"#333333","domain":false,"labels":false,"title":null}},
"x2":{"datum":3090000}
}},
{"data":{"name":"adev"},"transform":[{"filter":"datum.series == 'USO'"}],"mark":{"type":"line","color":"#14d814","strokeWidth":2,"interpolate":"monotone"},
"encoding":{
"x":{"field":"tau","type":"quantitative","scale":{"type":"log","domain":[0.1,3090000],"range":[983,1818],"nice":false},
"axis":{"orient":"top","offset":-9,"values":[1,10,100,1000,10000,100000,1000000],"tickSize":-7,"tickWidth":1,"tickColor":"#333333","domainColor":"#777777","domainWidth":1.2,"labels":false,"title":null}},
"y":{"field":"s","type":"quantitative","scale":{"type":"log","domain":[1e-14,2.94e-11],"range":[379,9],"nice":false},"axis":null}
}},
{"data":{"name":"adev"},"transform":[{"filter":"datum.series == 'RAFS'"}],"mark":{"type":"line","color":"#1c1ce8","strokeWidth":2,"interpolate":"monotone"},
"encoding":{
"x":{"field":"tau","type":"quantitative","scale":{"type":"log","domain":[0.1,3090000],"range":[983,1818],"nice":false},
"axis":{"orient":"top","offset":-9,"values":[0.2,0.5,0.8,2,5,8,20,50,80,200,500,800,2000,5000,8000,20000,50000,80000,200000,500000,800000,2000000],"tickSize":-4,"tickWidth":1,"tickColor":"#333333","domain":false,"labels":false,"title":null}},
"y":{"field":"s","type":"quantitative","scale":{"type":"log","domain":[1e-14,2.94e-11],"range":[379,9],"nice":false},"axis":null}
}},
{"data":{"name":"adev"},"transform":[{"filter":"datum.series == 'Composite clock'"}],"mark":{"type":"line","color":"#ee1515","strokeWidth":2,"interpolate":"monotone"},
"encoding":{
"x":{"field":"tau","type":"quantitative","scale":{"type":"log","domain":[0.1,3090000],"range":[983,1818],"nice":false},"axis":null},
"y":{"field":"s","type":"quantitative","scale":{"type":"log","domain":[1e-14,2.94e-11],"range":[379,9],"nice":false},"axis":null}
}},
{"data":{"name":"tleg"},"mark":{"type":"rule","strokeWidth":2},
"encoding":{
"x":{"field":"xa","type":"quantitative","scale":{"type":"log","domain":[0.1,3090000],"range":[983,1818],"nice":false},"axis":null},
"x2":{"field":"xb"},
"y":{"field":"y","type":"quantitative","scale":{"type":"log","domain":[1e-14,2.94e-11],"range":[379,9],"nice":false},"axis":null},
"stroke":{"field":"series","type":"nominal","scale":{"domain":["USO","RAFS","Composite clock"],"range":["#14d814","#1c1ce8","#ee1515"]},"legend":null}
}},
{"data":{"name":"tleg"},"mark":{"type":"text","align":"right","baseline":"middle","font":"DejaVu Sans","fontSize":15.5,"color":"#222222"},
"encoding":{
"x":{"field":"xt","type":"quantitative","scale":{"type":"log","domain":[0.1,3090000],"range":[983,1818],"nice":false},"axis":null},
"y":{"field":"y","type":"quantitative","scale":{"type":"log","domain":[1e-14,2.94e-11],"range":[379,9],"nice":false},"axis":null},
"text":{"field":"series","type":"nominal"}
}}
]
},
{
"layer":[
{"data":{"name":"arrows"},"mark":{"type":"rule","strokeWidth":5},
"encoding":{
"x":{"field":"xs","type":"quantitative","scale":{"type":"linear","domain":[0,20],"range":[120.5,1110.5],"nice":false,"zero":false},"axis":null},
"y":{"field":"ys","type":"quantitative","scale":{"type":"linear","domain":[-20,20],"range":[990,674],"nice":false,"zero":false},"axis":null},
"x2":{"field":"xe"},"y2":{"field":"ye"},
"color":{"field":"target","type":"nominal","scale":{"domain":["Hrlge +++","Hrlge composite","Hrlge Doris"],"range":["#1e3cff","#0d8c1c","#f7a25e"]},"legend":null}
}},
{"data":{"name":"arrows"},"mark":{"type":"point","shape":"M -1 1 L 0 0 L 1 1","size":1100,"filled":false,"strokeWidth":5,"strokeJoin":"miter","opacity":1},
"encoding":{
"x":{"field":"xe","type":"quantitative","scale":{"type":"linear","domain":[0,20],"range":[120.5,1110.5],"nice":false,"zero":false},"axis":null},
"y":{"field":"ye","type":"quantitative","scale":{"type":"linear","domain":[-20,20],"range":[990,674],"nice":false,"zero":false},"axis":null},
"angle":{"field":"heading","type":"quantitative","scale":null},
"color":{"field":"target","type":"nominal","scale":{"domain":["Hrlge +++","Hrlge composite","Hrlge Doris"],"range":["#1e3cff","#0d8c1c","#f7a25e"]},"legend":null}
}},
{"data":{"name":"notes"},"mark":{"type":"text","align":"left","baseline":"alphabetic","font":"Lato","fontSize":45,"color":"black"},
"encoding":{
"x":{"field":"day","type":"quantitative","scale":{"type":"linear","domain":[0,20],"range":[120.5,1110.5],"nice":false,"zero":false},"axis":null},
"y":{"field":"ns","type":"quantitative","scale":{"type":"linear","domain":[-20,20],"range":[990,674],"nice":false,"zero":false},"axis":null},
"text":{"field":"label","type":"nominal"}
}},
{"data":{"name":"notes_it"},"mark":{"type":"text","align":"left","baseline":"alphabetic","font":"Lato","fontSize":34,"fontStyle":"italic","color":"black"},
"encoding":{
"x":{"field":"day","type":"quantitative","scale":{"type":"linear","domain":[0,20],"range":[120.5,1110.5],"nice":false,"zero":false},"axis":null},
"y":{"field":"ns","type":"quantitative","scale":{"type":"linear","domain":[-20,20],"range":[990,674],"nice":false,"zero":false},"axis":null},
"text":{"field":"label","type":"nominal"}
}}
]
}
]
}
